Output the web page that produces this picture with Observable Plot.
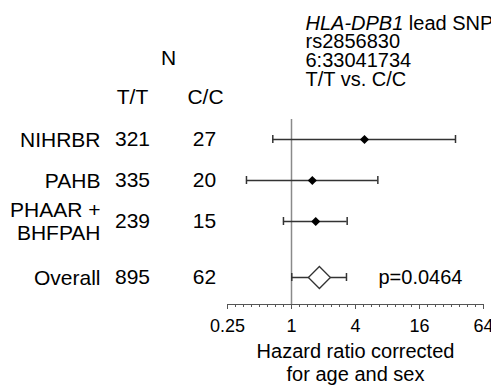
<!DOCTYPE html>
<html>
<head>
<meta charset="utf-8">
<script src="https://cdn.jsdelivr.net/npm/d3@7"></script>
<script src="https://cdn.jsdelivr.net/npm/@observablehq/plot@0.6"></script>
<style>
  html, body { margin: 0; padding: 0; background: #fff; }
  #chart svg { display: block; }
</style>
</head>
<body>
<div id="chart"></div>
<script>
// ---- data ----
const studies = ["NIHRBR", "PAHB", "PHAAR +\nBHFPAH", "Overall"];
const nTT = [321, 335, 239, 895];
const nCC = [27, 20, 15, 62];
const hazardRatio = [4.86, 1.57, 1.69, 1.83];
const ciLow = [0.667, 0.377, 0.84, 1.006];
const ciHigh = [34.9, 6.49, 3.34, 3.29];
const pOverall = "p=0.0464";
const colHeaders = ["T/T", "C/C"];
const groupHeader = ["N"];
const titleLines = ["HLA-DPB1 lead SNP", "rs2856830", "6:33041734", "T/T vs. C/C"];
const axisTitle = ["Hazard ratio corrected", "for age and sex"];
const majorTicks = [0.25, 1, 4, 16, 64];
const tickLabels = ["0.25", "1", "4", "16", "64"];

// minor ticks every quarter power of two (axis setting, not data)
const minorTicks = d3.range(-8, 25).filter(k => k % 8 !== 0).map(k => 2 ** (k / 4));

const rows = studies.map((s, i) => ({
  study: s, i, tt: nTT[i], cc: nCC[i],
  hr: hazardRatio[i], lo: ciLow[i], hi: ciHigh[i], overall: i === studies.length - 1
}));
const studyRows = rows.filter(d => !d.overall);
const overallRows = rows.filter(d => d.overall);

const font = "'Liberation Sans', Arial, Helvetica, sans-serif";
const dark = "#333";

const chart = Plot.plot({
  width: 491,
  height: 387,
  marginLeft: 227,
  marginRight: 8,
  marginTop: 119,
  marginBottom: 83,
  style: { fontFamily: font, fontSize: "20px", color: "#000", background: "#fff", overflow: "visible" },
  x: { type: "log", base: 2, domain: [0.25, 64], axis: null },
  // piecewise row spacing: the overall row sits a little further down
  y: { type: "linear", domain: [0, 2, 3], range: [139, 221, 277], axis: null },
  marks: [
    // reference line at HR = 1
    Plot.ruleX([1], { stroke: "#8a8a8a", strokeWidth: 1.5 }),
    // axis line
    Plot.frame({ anchor: "bottom", stroke: "#555", strokeWidth: 1 }),
    // minor ticks
    Plot.axisX({ ticks: minorTicks, tickSize: 3, tickFormat: () => "", label: null, stroke: "#555" }),
    // major ticks with labels
    Plot.axisX({
      ticks: majorTicks, tickSize: 5, tickPadding: 10, label: null, stroke: "#555",
      tickFormat: d => tickLabels[majorTicks.indexOf(d)], fontSize: 18, fill: "#000"
    }),
    // CI whiskers
    Plot.ruleY(rows, { x1: "lo", x2: "hi", y: "i", stroke: dark, strokeWidth: 1.5 }),
    Plot.ruleX(rows, { x: "lo", y1: "i", y2: "i", insetTop: -4, insetBottom: -4, stroke: dark, strokeWidth: 1.5 }),
    Plot.ruleX(rows, { x: "hi", y1: "i", y2: "i", insetTop: -4, insetBottom: -4, stroke: dark, strokeWidth: 1.5 }),
    // point estimates
    Plot.dot(studyRows, { x: "hr", y: "i", symbol: "diamond2", r: 4.1, fill: "#000", stroke: "none" }),
    Plot.dot(overallRows, { x: "hr", y: "i", symbol: "diamond2", r: 9.9, fill: "#fff", stroke: dark, strokeWidth: 1.3 }),
    // p value
    Plot.text(overallRows, { y: "i", text: () => pOverall, frameAnchor: "left", dx: 151, textAnchor: "start", fontSize: 20 }),
    // table: study names, counts
    Plot.text(rows, { y: "i", text: "study", frameAnchor: "left", dx: -127, textAnchor: "end", fontSize: 21, lineHeight: 1.1 }),
    Plot.text(rows, { y: "i", text: "tt", frameAnchor: "left", dx: -95, textAnchor: "middle", fontSize: 21 }),
    Plot.text(rows, { y: "i", text: "cc", frameAnchor: "left", dx: -23, textAnchor: "middle", fontSize: 21 }),
    // table headers
    Plot.text(groupHeader, { text: d => d, frameAnchor: "top-left", dx: -59, dy: -61, lineAnchor: "middle", textAnchor: "middle", fontSize: 21 }),
    Plot.text([colHeaders[0]], { text: d => d, frameAnchor: "top-left", dx: -95, dy: -22, lineAnchor: "middle", textAnchor: "middle", fontSize: 21 }),
    Plot.text([colHeaders[1]], { text: d => d, frameAnchor: "top-left", dx: -22, dy: -22, lineAnchor: "middle", textAnchor: "middle", fontSize: 21 }),
    // top-right title block
    Plot.text([titleLines.join("\n")], { text: d => d, frameAnchor: "top-left", dx: 78, dy: -103, lineAnchor: "top", textAnchor: "start", fontSize: 20, lineHeight: 0.93 }),
    // axis title
    Plot.text([axisTitle.join("\n")], { text: d => d, frameAnchor: "bottom", dy: 57.5, lineAnchor: "middle", textAnchor: "middle", fontSize: 20, lineHeight: 1.15 })
  ]
});

// italicise the gene name in the title block
const ns = "http://www.w3.org/2000/svg";
d3.select(chart).selectAll("tspan").each(function () {
  if (this.textContent === titleLines[0]) {
    const parts = titleLines[0].split(" ");
    const gene = parts.shift();
    this.textContent = "";
    const it = document.createElementNS(ns, "tspan");
    it.setAttribute("font-style", "italic");
    it.textContent = gene;
    this.appendChild(it);
    this.appendChild(document.createTextNode(" " + parts.join(" ")));
  }
});

document.getElementById("chart").appendChild(chart);
</script>
</body>
</html>
